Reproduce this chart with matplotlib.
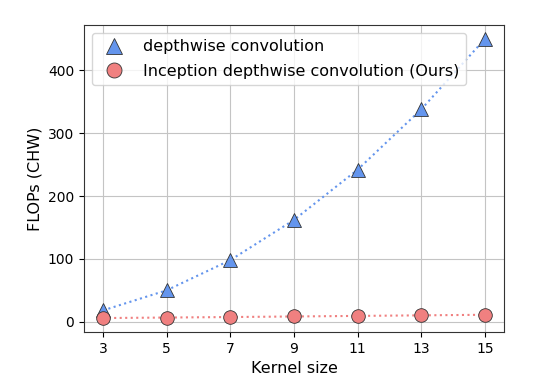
import matplotlib
matplotlib.use("Agg")
import matplotlib.pyplot as plt

kernel_sizes = [3, 5, 7, 9, 11, 13, 15]
dw_flops = [18, 50, 98, 162, 242, 338, 450]
inception_flops = [5.8, 6.6, 7.4, 8.3, 9.2, 10.1, 11.0]

fig = plt.figure(figsize=(5.51, 3.81), dpi=100)
ax = fig.add_axes([84 / 551, 1 - 332 / 381, 420 / 551, 307 / 381])

ax.plot(kernel_sizes, dw_flops, ":", color="#6495ED", lw=1.5, zorder=2)
ax.plot(kernel_sizes, inception_flops, ":", color="#F08080", lw=1.5, zorder=2)
ax.plot(kernel_sizes, dw_flops, "^", ms=10.5, mfc="#6495ED", mec="#333333",
        mew=0.6, ls="none", label="depthwise convolution", zorder=3)
ax.plot(kernel_sizes, inception_flops, "o", ms=9.8, mfc="#F08080", mec="#333333",
        mew=0.6, ls="none", label="Inception depthwise convolution (Ours)",
        zorder=3)

ax.set_xticks(kernel_sizes)
ax.set_xlabel("Kernel size", fontsize=11.5)
ax.set_ylabel("FLOPs (CHW)", fontsize=11.5)
ax.grid(True, color="#c4c4c4", lw=0.8)
ax.set_axisbelow(True)
for s in ax.spines.values():
    s.set_color("#333333")
ax.legend(loc="upper left", fontsize=11.5, markerscale=1.1, labelspacing=0.6)

fig.savefig("out.png", dpi=100)
